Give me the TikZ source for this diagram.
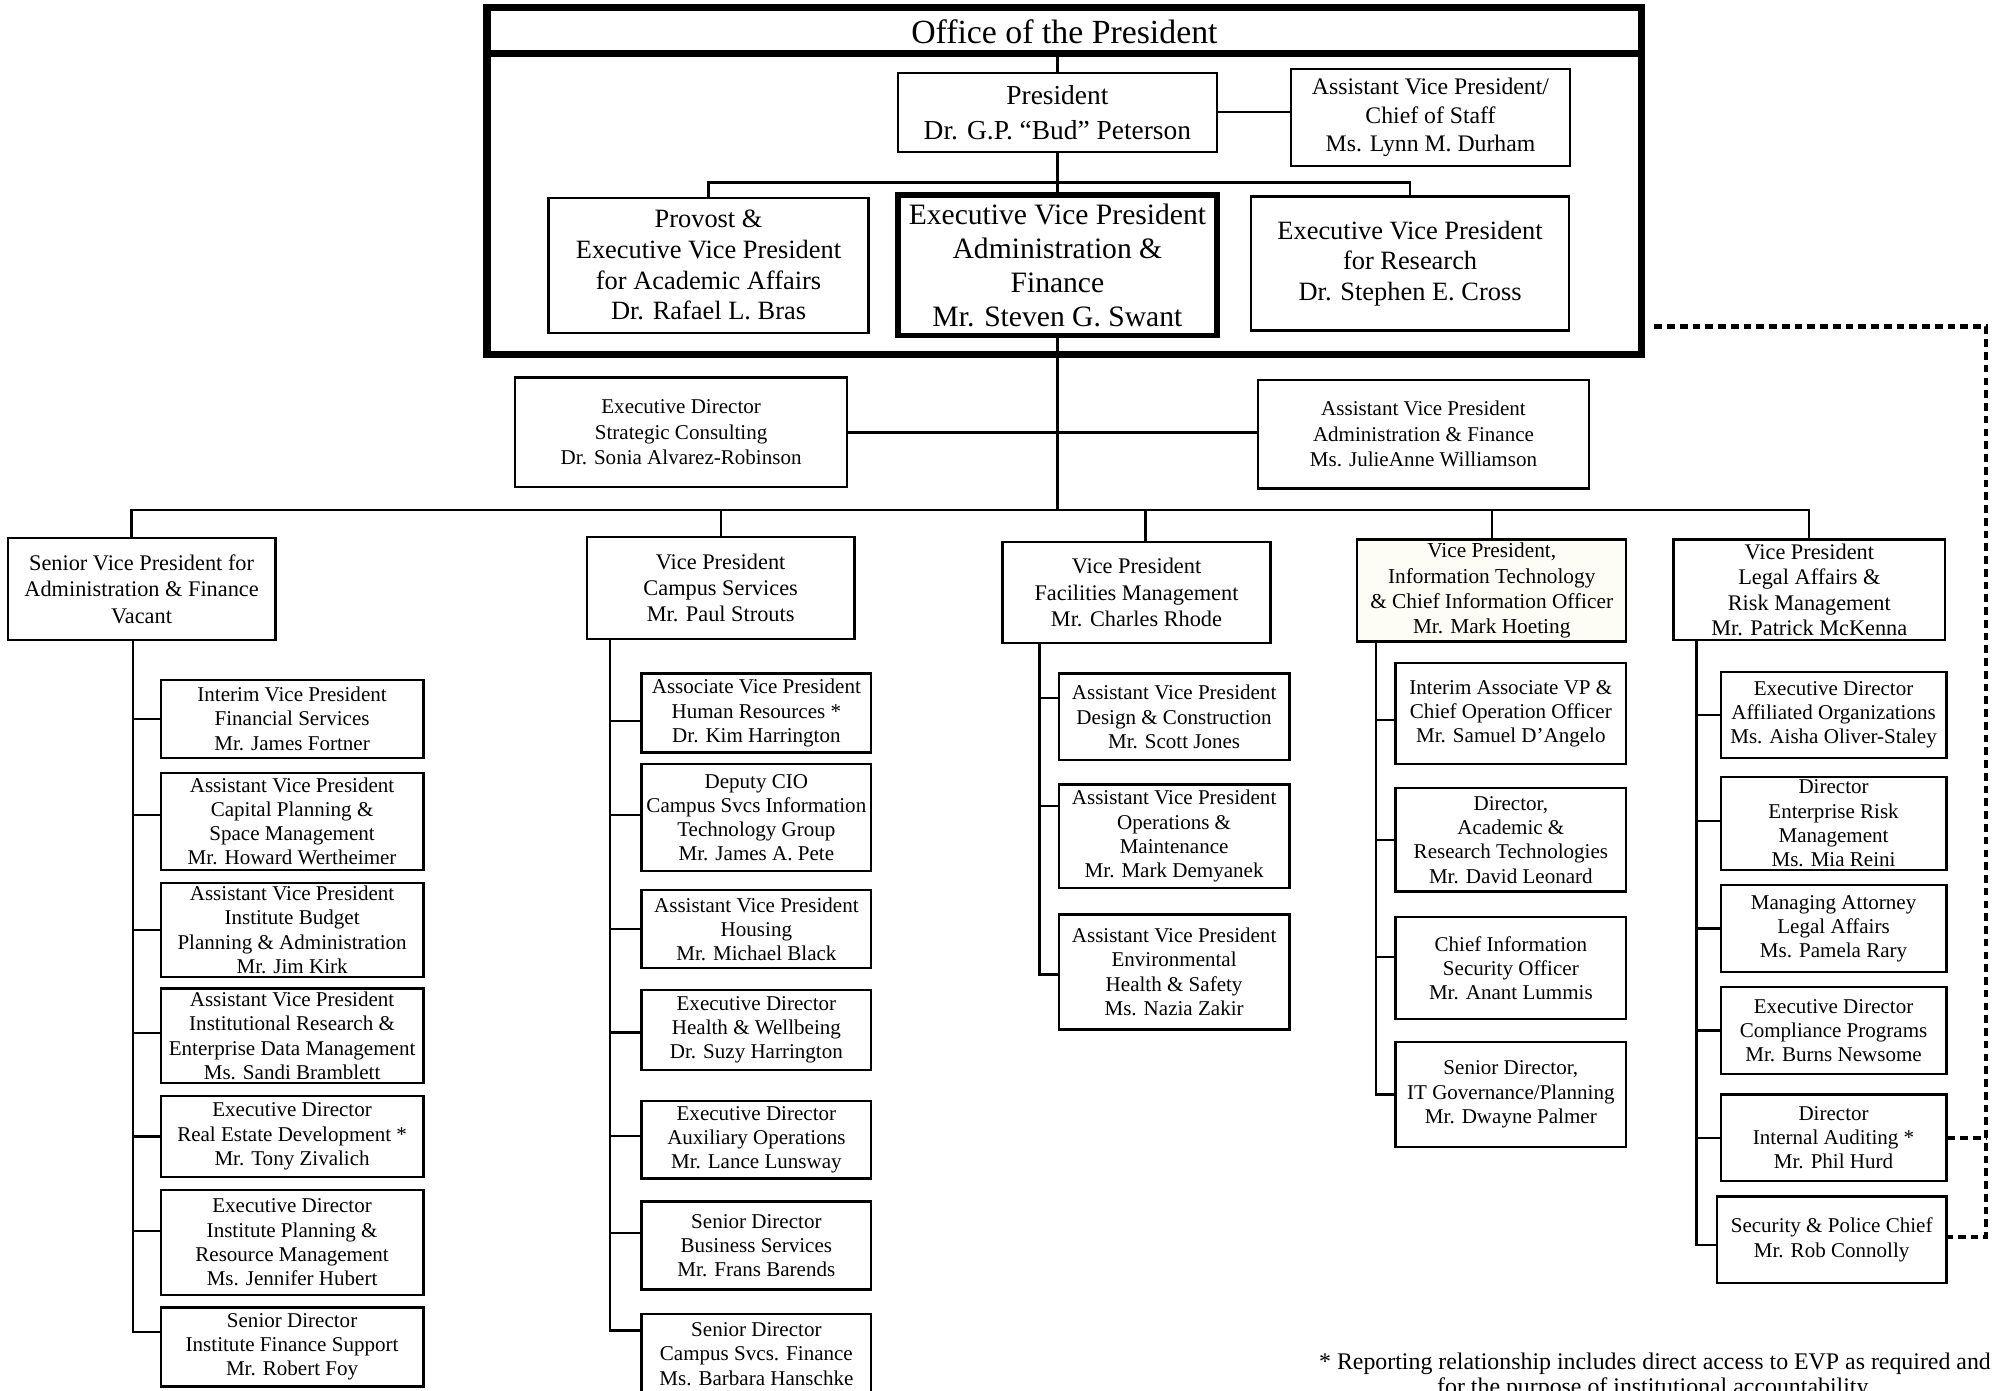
\documentclass[tikz,border=0pt]{standalone}
\usepackage{fontspec}
\setmainfont{Liberation Serif}
\definecolor{cream}{RGB}{254,253,245}
\newcommand{\orgbox}[7][]{%
  \pgfmathsetmacro\obcx{(#3+#5)/2}%
  \pgfmathsetmacro\obcy{(#4+#6)/2}%
  \pgfmathsetmacro\obw{#5-#3}%
  \pgfmathsetmacro\obh{#6-#4}%
  \node[obox,minimum width=\obw pt,minimum height=\obh pt,#1] (#2) at (\obcx,\obcy) {#7};%
}
\newcommand{\orgconn}[3]{\draw[conn] ([yshift=#3pt]#1.west) -- ([yshift=#3pt]#1.west -| #2);}
\tikzset{
  obox/.style={draw, line width=1.8pt, inner sep=0pt, align=center, font=\fontsize{16.5}{19}\selectfont},
  officebox/.style={line width=6pt},
  presbox/.style={font=\fontsize{21.5}{27.5}\selectfont},
  cosbox/.style={font=\fontsize{18.6}{22.5}\selectfont},
  evpbox/.style={font=\fontsize{20.7}{24}\selectfont},
  mainbox/.style={line width=4.5pt, font=\fontsize{23.2}{26.6}\selectfont},
  midbox/.style={font=\fontsize{16.5}{20}\selectfont},
  lvtwo/.style={font=\fontsize{17.5}{20.5}\selectfont},
  lvtwob/.style={font=\fontsize{17.5}{19.8}\selectfont},
  lvtwoc/.style={font=\fontsize{16.7}{19.8}\selectfont, fill=cream},
  conn/.style={line width=1.8pt},
  dsh/.style={line width=3.2pt, dash pattern=on 6pt off 4pt},
}
\begin{document}
\begin{tikzpicture}[x=1pt,y=-1pt]
\path[fill=white] (0,0) rectangle (1568,1090.5);
\useasboundingbox (0,0) rectangle (1568,1090.5);

% ---------- Office of the President ----------
\orgbox[officebox]{office}{382}{6}{1287}{278}{}
\node[font=\fontsize{26.5}{30}\selectfont] (title) at (834.5,25) {Office of the President};
\coordinate (sep) at (829,42);
\draw[line width=6pt] (office.west |- sep) -- (office.east |- sep);

\orgbox[presbox]{pres}{704}{57}{954}{119}{President\\Dr. G.P. “Bud” Peterson}
\orgbox[cosbox]{cos}{1012}{54}{1231}{130}{Assistant Vice President/\\Chief of Staff\\Ms. Lynn M. Durham}
\orgbox[evpbox]{prov}{430}{155}{681}{261}{Provost \&\\Executive Vice President\\for Academic Affairs\\Dr. Rafael L. Bras}
\orgbox[mainbox]{evp}{704}{153}{954}{263}{Executive Vice President\\Administration \&\\Finance\\Mr. Steven G. Swant}
\orgbox[evpbox]{res}{981}{154}{1230}{259}{Executive Vice President\\for Research\\Dr. Stephen E. Cross}

\draw[conn] (pres.north) -- (pres.north |- sep);
\draw[conn] (pres.east) -- (pres.east -| cos.west);
\draw[conn] (pres.south) -- (evp.north);
\coordinate (tb) at (829,143);
\draw[conn] (prov.north) |- (tb) -| (res.north);

% ---------- staff ----------
\orgbox[midbox]{strat}{404}{296}{664}{382}{Executive Director\\Strategic Consulting\\Dr. Sonia Alvarez-Robinson}
\orgbox[midbox]{avpaf}{986}{298}{1246}{383}{Assistant Vice President\\Administration \& Finance\\Ms. JulieAnne Williamson}
\draw[conn] (strat.east) -- (strat.east -| avpaf.west);

% ---------- level 2 ----------
\orgbox[lvtwo]{svp}{6}{422}{216}{502}{Senior Vice President for\\Administration \& Finance\\Vacant}
\orgbox[lvtwo]{campus}{460}{421}{670}{501}{Vice President\\Campus Services\\Mr. Paul Strouts}
\orgbox[lvtwo]{fac}{786}{425}{996}{504}{Vice President\\Facilities Management\\Mr. Charles Rhode}
\orgbox[lvtwoc]{it}{1064}{423}{1275}{503}{Vice President,\\Information Technology\\\& Chief Information Officer\\Mr. Mark Hoeting}
\orgbox[lvtwob]{legal}{1312}{423}{1525}{502}{Vice President\\Legal Affairs \&\\Risk Management\\Mr. Patrick McKenna}

\coordinate (bus) at (829,400);
\coordinate (dS) at (103,400);
\coordinate (dF) at (898,400);
\draw[conn] (evp.south) -- (bus);
\draw[conn] (svp.north -| dS) -- (dS) -- (bus -| legal.north) -- (legal.north);
\draw[conn] (campus.north) -- (campus.north |- bus);
\draw[conn] (dF) -- (dF |- fac.north);
\draw[conn] (it.north) -- (it.north |- bus);

% ---------- SVP subtree ----------
\coordinate (tS) at (104,0);
\orgbox{s1}{126}{533}{332}{594}{Interim Vice President\\Financial Services\\Mr. James Fortner}
\orgbox{s2}{126}{606}{332}{682}{Assistant Vice President\\Capital Planning \&\\Space Management\\Mr. Howard Wertheimer}
\orgbox{s3}{126}{692}{332}{766}{Assistant Vice President\\Institute Budget\\Planning \& Administration\\Mr. Jim Kirk}
\orgbox{s4}{126}{775}{332}{849}{Assistant Vice President\\Institutional Research \&\\Enterprise Data Management\\Ms. Sandi Bramblett}
\orgbox{s5}{126}{859}{332}{923}{Executive Director\\Real Estate Development *\\Mr. Tony Zivalich}
\orgbox{s6}{126}{933}{332}{1015}{Executive Director\\Institute Planning \&\\Resource Management\\Ms. Jennifer Hubert}
\orgbox{s7}{126}{1025}{332}{1087}{Senior Director\\Institute Finance Support\\Mr. Robert Foy}
\draw[conn] (svp.south -| tS) |- ([yshift=12pt]s7.west);
\orgconn{s1}{tS}{0}
\orgconn{s2}{tS}{5}
\orgconn{s3}{tS}{0}
\orgconn{s4}{tS}{2}
\orgconn{s5}{tS}{0}
\orgconn{s6}{tS}{9}

% ---------- Campus subtree ----------
\coordinate (tC) at (478,0);
\orgbox{c1}{503}{528}{683}{590}{Associate Vice President\\Human Resources *\\Dr. Kim Harrington}
\orgbox{c2}{503}{599}{683}{683}{Deputy CIO\\Campus Svcs Information\\Technology Group\\Mr. James A. Pete}
\orgbox{c3}{503}{698}{683}{759}{Assistant Vice President\\Housing\\Mr. Michael Black}
\orgbox{c4}{503}{776}{683}{839}{Executive Director\\Health \& Wellbeing\\Dr. Suzy Harrington}
\orgbox{c5}{503}{863}{683}{924}{Executive Director\\Auxiliary Operations\\Mr. Lance Lunsway}
\orgbox{c6}{503}{942}{683}{1011}{Senior Director\\Business Services\\Mr. Frans Barends}
\orgbox{c7}{503}{1030}{683}{1093}{Senior Director\\Campus Svcs. Finance\\Ms. Barbara Hanschke}
\draw[conn] (campus.south -| tC) |- ([yshift=18.5pt]c7.west);
\orgconn{c1}{tC}{-6}
\orgconn{c2}{tC}{2}
\orgconn{c3}{tC}{0}
\orgconn{c4}{tC}{-2}
\orgconn{c5}{tC}{3}
\orgconn{c6}{tC}{10}

% ---------- Facilities subtree ----------
\coordinate (tF) at (815,0);
\orgbox{f1}{830}{528}{1011}{596}{Assistant Vice President\\Design \& Construction\\Mr. Scott Jones}
\orgbox{f2}{830}{615}{1011}{696}{Assistant Vice President\\Operations \&\\Maintenance\\Mr. Mark Demyanek}
\orgbox{f3}{830}{717}{1011}{807}{Assistant Vice President\\Environmental\\Health \& Safety\\Ms. Nazia Zakir}
\draw[conn] (fac.south -| tF) |- ([yshift=-2pt]f3.west);
\orgconn{f1}{tF}{15}
\orgconn{f2}{tF}{23.5}

% ---------- IT subtree ----------
\coordinate (tI) at (1079,0);
\orgbox{i1}{1094}{520}{1275}{599}{Interim Associate VP \&\\Chief Operation Officer\\Mr. Samuel D’Angelo}
\orgbox{i2}{1094}{618}{1275}{699}{Director,\\Academic \&\\Research Technologies\\Mr. David Leonard}
\orgbox{i3}{1094}{719}{1275}{799}{Chief Information\\Security Officer\\Mr. Anant Lummis}
\orgbox{i4}{1094}{817}{1275}{899}{Senior Director,\\IT Governance/Planning\\Mr. Dwayne Palmer}
\draw[conn] (it.south -| tI) |- (i4.west);
\orgconn{i1}{tI}{-5}
\orgconn{i2}{tI}{0}
\orgconn{i3}{tI}{9}

% ---------- Legal subtree ----------
\coordinate (tL) at (1330,0);
\orgbox{l1}{1349}{527}{1526}{594}{Executive Director\\Affiliated Organizations\\Ms. Aisha Oliver-Staley}
\orgbox{l2}{1349}{609}{1526}{682}{Director\\Enterprise Risk\\Management\\Ms. Mia Reini}
\orgbox{l3}{1349}{694}{1526}{762}{Managing Attorney\\Legal Affairs\\Ms. Pamela Rary}
\orgbox{l4}{1349}{774}{1526}{842}{Executive Director\\Compliance Programs\\Mr. Burns Newsome}
\orgbox{l5}{1349}{858}{1526}{926}{Director\\Internal Auditing *\\Mr. Phil Hurd}
\orgbox{l6}{1346}{938}{1526}{1006}{Security \& Police Chief\\Mr. Rob Connolly}
\draw[conn] (legal.south -| tL) |- ([yshift=-4pt]l6.west);
\orgconn{l1}{tL}{0}
\orgconn{l2}{tL}{2}
\orgconn{l3}{tL}{0}
\orgconn{l4}{tL}{0}
\orgconn{l5}{tL}{0}

% ---------- dotted reporting line ----------
\coordinate (dtop) at (1557,256);
\draw[dsh] ([xshift=7pt]office.east |- dtop) -- (dtop) |- ([yshift=2pt]l6.east);
\draw[dsh] (l5.east) -- (l5.east -| dtop);

% ---------- footnote ----------
\node[font=\fontsize{18.7}{19.5}\selectfont, align=center] (note) at (1297.5,1079)
  {* Reporting relationship includes direct access to EVP as required and\\for the purpose of institutional accountability.};
\end{tikzpicture}
\end{document}
